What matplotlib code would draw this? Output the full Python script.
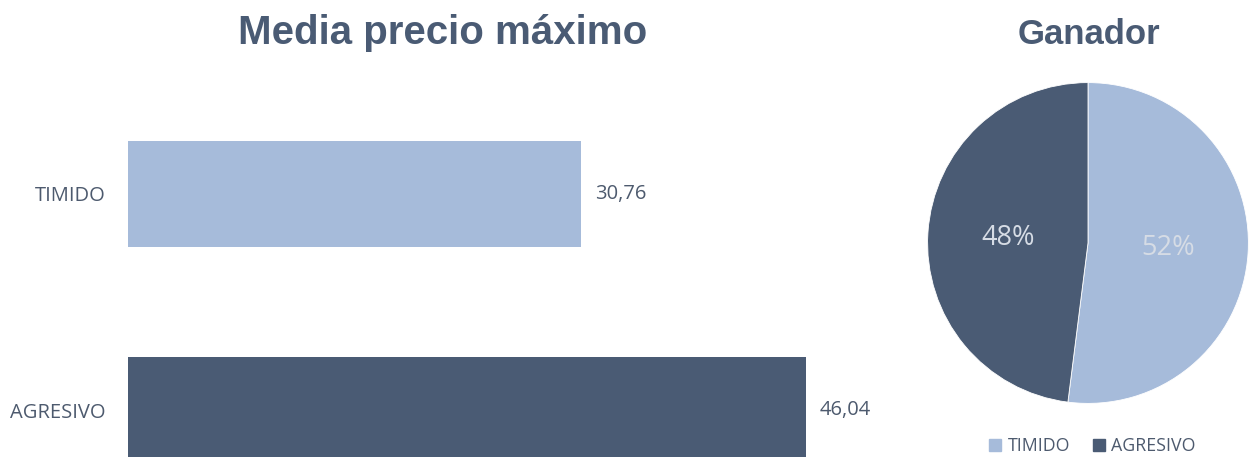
import matplotlib
matplotlib.use("Agg")
import matplotlib.pyplot as plt
from matplotlib.lines import Line2D

# data
categorias = ["TIMIDO", "AGRESIVO"]
precio_max = [30.76, 46.04]
ganador_pct = [52, 48]

C_LIGHT = "#A6BBDA"
C_DARK = "#4A5B74"
C_TEXT = "#4D5A6E"
C_TITLE = "#4A5B74"
colores = [C_LIGHT, C_DARK]

plt.rcParams["font.family"] = ["Open Sans", "DejaVu Sans"]

fig = plt.figure(figsize=(12.5, 4.57), dpi=100)

# ── bar chart ──
ax = fig.add_axes([128 / 1250, 0.0, 772 / 1250, 1.0])
ypos = list(range(len(categorias)))
bars = ax.barh(ypos, precio_max, height=0.49, color=colores)
ax.set_xlim(0, 772 / 14.73)
ax.set_ylim((457 - 194) / 216, -194 / 216)
ax.set_yticks(ypos)
ax.set_yticklabels(categorias, fontsize=14.5, color=C_TEXT)
ax.tick_params(axis="y", length=0, pad=16)
ax.set_xticks([])
for s in ax.spines.values():
    s.set_visible(False)
ax.bar_label(bars, labels=[f"{v:.2f}".replace(".", ",") for v in precio_max],
             padding=10, fontsize=14.5, color=C_TEXT)

fig.text(443 / 1250, 1 - 33 / 457, "Media precio máximo", ha="center", va="center",
         fontsize=29, fontweight="bold", color=C_TITLE, family="Liberation Sans")

# ── pie chart ──
ax2 = fig.add_axes([926 / 1250, 52 / 457, 324 / 1250, 324 / 457])
wedges, _, autotexts = ax2.pie(ganador_pct, colors=colores, startangle=90,
                               counterclock=False, autopct="%d%%", pctdistance=0.5,
                               wedgeprops=dict(linewidth=0.6, edgecolor="white"),
                               textprops=dict(fontsize=19.5, color="#D6DCE5"))
ax2.set_xlim(-1.01, 1.01)
ax2.set_ylim(-1.01, 1.01)

fig.text(1089 / 1250, 1 - 34 / 457, "Ganador", ha="center", va="center",
         fontsize=25, fontweight="bold", color=C_TITLE, family="Liberation Sans")

handles = [Line2D([], [], marker="s", linestyle="none", markersize=9,
                  markerfacecolor=c, markeredgecolor=c) for c in colores]
fig.legend(handles, categorias, loc="center", bbox_to_anchor=(1092 / 1250, 1 - 446 / 457),
           ncol=2, frameon=False, fontsize=12.8, labelcolor=C_TEXT,
           handletextpad=0.3, columnspacing=1.2, handlelength=0.8)

fig.savefig("out.png", dpi=100)
